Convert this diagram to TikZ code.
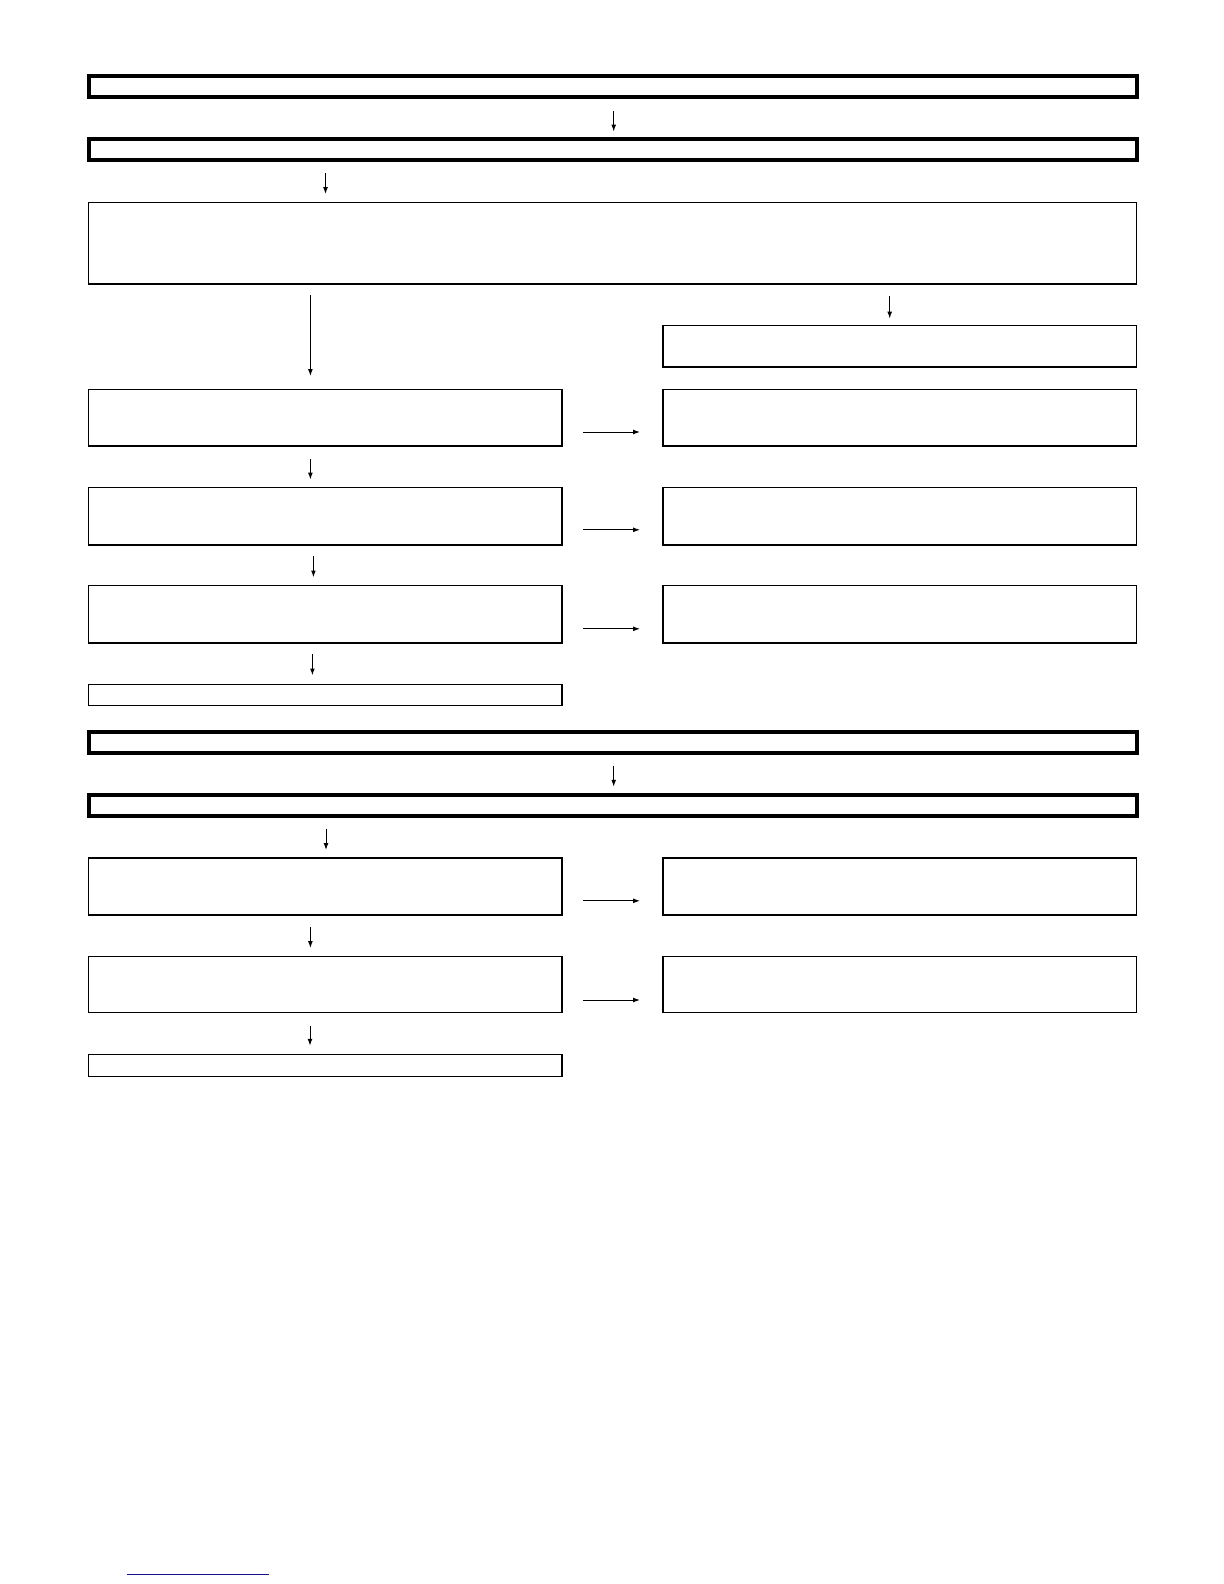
\documentclass[tikz,border=0pt]{standalone}
\usetikzlibrary{arrows.meta,fit}
\definecolor{linkblue}{RGB}{20,20,140}
\tikzset{
  thinbox/.style={draw=black, line width=0.55bp, inner sep=0pt, outer sep=0pt, fill=none},
  thickbox/.style={draw=black, line width=2bp, inner sep=0pt, outer sep=0pt, fill=none},
  arr/.style={draw=black, line width=0.5bp, -{Latex[length=3.4bp,width=2.4bp]}},
  linkline/.style={draw=linkblue, line width=0.7bp}
}
\begin{document}
\begin{tikzpicture}[x=0.5bp,y=-0.5bp]
\useasboundingbox (0,0) rectangle (1224,1584);
% thick boxes
\node[thickbox, fit={(89,76) (1137,97.3)}] (t1) {};
\node[thickbox, fit={(89,139) (1137,160.3)}] (t2) {};
\node[thickbox, fit={(89,732) (1137,753.3)}] (t3) {};
\node[thickbox, fit={(89,795) (1137,816.3)}] (t4) {};
% thin boxes
\node[thinbox, fit={(88.5,202.5) (1136.5,284)}] (big) {};
\node[thinbox, fit={(663,325.5) (1136.5,367)}] (r0) {};
\node[thinbox, fit={(88.5,389.5) (562,446)}] (l1) {};
\node[thinbox, fit={(663,389.5) (1136.5,446)}] (r1) {};
\node[thinbox, fit={(88.5,487.5) (562,545)}] (l2) {};
\node[thinbox, fit={(663,487.5) (1136.5,545)}] (r2) {};
\node[thinbox, fit={(88.5,585.5) (562,643)}] (l3) {};
\node[thinbox, fit={(663,585.5) (1136.5,643)}] (r3) {};
\node[thinbox, fit={(88.5,684.5) (562,705.7)}] (l4) {};
\node[thinbox, fit={(88.5,858) (562,915)}] (l5) {};
\node[thinbox, fit={(663,858) (1136.5,915)}] (r5) {};
\node[thinbox, fit={(88.5,956.5) (562,1012.5)}] (l6) {};
\node[thinbox, fit={(663,956.5) (1136.5,1012.5)}] (r6) {};
\node[thinbox, fit={(88.5,1054.5) (562,1076.3)}] (l7) {};
% arrow end points
\coordinate (a1s) at (613.7,111);   \coordinate (a1e) at (613.7,131.5);
\coordinate (a2s) at (325.5,173);   \coordinate (a2e) at (325.5,194);
\coordinate (a3s) at (310.4,295);   \coordinate (a3e) at (310.4,376);
\coordinate (a4s) at (889.7,296);   \coordinate (a4e) at (889.7,318.5);
\coordinate (h1s) at (583,432);     \coordinate (h1e) at (640,432);
\coordinate (a5s) at (310.4,458.5); \coordinate (a5e) at (310.4,479.5);
\coordinate (h2s) at (583,529.8);   \coordinate (h2e) at (640,529.8);
\coordinate (a6s) at (313.4,556);   \coordinate (a6e) at (313.4,577.3);
\coordinate (h3s) at (583,628.8);   \coordinate (h3e) at (640,628.8);
\coordinate (a7s) at (312.4,654);   \coordinate (a7e) at (312.4,675.3);
\coordinate (a8s) at (613.7,765.7); \coordinate (a8e) at (613.7,786.7);
\coordinate (a9s) at (326,829);     \coordinate (a9e) at (326,850);
\coordinate (h5s) at (583,900.8);   \coordinate (h5e) at (640,900.8);
\coordinate (a10s) at (310.4,927);  \coordinate (a10e) at (310.4,948);
\coordinate (h6s) at (583,1000);    \coordinate (h6e) at (640,1000);
\coordinate (a11s) at (310,1025.7); \coordinate (a11e) at (310,1045.7);
% arrows
\foreach \a in {a1,a2,a3,a4,h1,a5,h2,a6,h3,a7,a8,a9,h5,a10,h6,a11}
  \draw[arr] (\a s) -- (\a e);
% blue line at the foot
\coordinate (ls) at (126.7,1574.7); \coordinate (le) at (269,1574.7);
\draw[linkline] (ls) -- (le);
\end{tikzpicture}
\end{document}
